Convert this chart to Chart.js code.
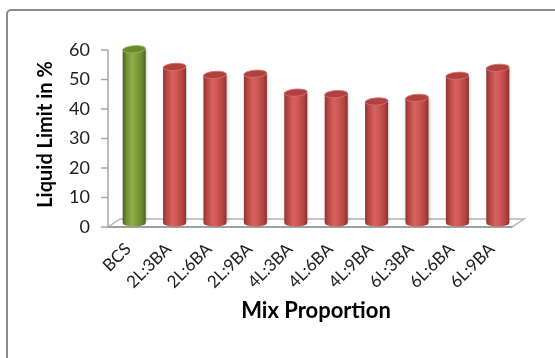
<!DOCTYPE html>
<html>
<head>
<meta charset="utf-8">
<script src="https://cdn.jsdelivr.net/npm/chart.js@4/dist/chart.umd.min.js"></script>
<style>
  html, body { margin: 0; padding: 0; background: #fff; overflow: hidden; }
  #wrap { position: relative; width: 555px; height: 358px; }
  #frame { position: absolute; left: 6px; top: 9px; width: 700px; height: 500px;
           border: 2px solid #8c8c8c; border-radius: 5px; box-sizing: border-box; pointer-events: none; }
  canvas { position: absolute; left: 0; top: 0; }
</style>
</head>
<body>
<div id="wrap">
  <canvas id="chart" width="555" height="358"></canvas>
  <div id="frame"></div>
</div>
<script>
// Mix proportions (lime : bottom ash) and their liquid limits
const categories = ['BCS', '2L:3BA', '2L:6BA', '2L:9BA', '4L:3BA', '4L:6BA', '4L:9BA', '6L:3BA', '6L:6BA', '6L:9BA'];
const liquidLimit = [58.9, 52.9, 50.2, 50.6, 44.2, 43.7, 41.2, 42.4, 49.9, 52.6];
const yMin = 0;
const yMax = 60;
const yStep = 10;

// Cylinder shading: untreated soil in green, treated mixes in red
const GREEN = {
  stops: ['#4a5d25', '#6f8c33', '#8fb04b', '#7f9f3d', '#6a8630', '#4b5f25'],
  top: '#6b8a2f', rim: '#9bbb5a'
};
const RED = {
  stops: ['#8e3432', '#b54744', '#d9625f', '#cd5754', '#b04340', '#883230'],
  top: '#b0413f', rim: '#d97471'
};
const STOP_POS = [0, 0.15, 0.4, 0.6, 0.85, 1];
const BAR_PCT = 0.57;
const DX = 6, DY = 4;           // half depth of the 3-D floor
const CAP_RY = 3.6;             // vertical radius of the cylinder caps

function paletteFor(i) { return i === 0 ? GREEN : RED; }

function bodyGradient(ctx, x0, x1, pal) {
  const g = ctx.createLinearGradient(x0, 0, x1, 0);
  pal.stops.forEach((c, k) => g.addColorStop(STOP_POS[k], c));
  return g;
}

// Floor, front value axis and its tick marks
const frame3d = {
  id: 'frame3d',
  beforeDatasetsDraw(chart) {
    const { ctx, chartArea: a, scales } = chart;
    const b = scales.y.getPixelForValue(yMin);
    ctx.save();
    ctx.fillStyle = '#ffffff';
    ctx.strokeStyle = '#b4b4b4';
    ctx.lineWidth = 1.5;
    ctx.beginPath();
    ctx.moveTo(a.left - DX, b + DY);
    ctx.lineTo(a.right - DX, b + DY);
    ctx.lineTo(a.right + DX, b - DY);
    ctx.lineTo(a.left + DX, b - DY);
    ctx.closePath();
    ctx.fill();
    ctx.stroke();
    // front edge of the floor
    ctx.strokeStyle = '#a0a0a0';
    ctx.lineWidth = 2.2;
    ctx.beginPath();
    ctx.moveTo(a.left - DX, b + DY);
    ctx.lineTo(a.right - DX, b + DY);
    ctx.stroke();
    // value axis with outward ticks
    const ax = a.left - DX;
    ctx.strokeStyle = '#a6a6a6';
    ctx.lineWidth = 1.5;
    ctx.beginPath();
    ctx.moveTo(ax, scales.y.getPixelForValue(yMax) + DY);
    ctx.lineTo(ax, b + DY);
    scales.y.ticks.forEach(t => {
      const py = scales.y.getPixelForValue(t.value) + DY;
      ctx.moveTo(ax - 7, py);
      ctx.lineTo(ax, py);
    });
    ctx.stroke();
    ctx.restore();
  }
};

// Soft shadow behind the cylinders
const barShadow = {
  id: 'barShadow',
  beforeDatasetDraw(chart) {
    const ctx = chart.ctx;
    ctx.save();
    ctx.shadowColor = 'rgba(0,0,0,0.22)';
    ctx.shadowBlur = 3;
    ctx.shadowOffsetX = 1;
  },
  afterDatasetDraw(chart) { chart.ctx.restore(); }
};

// Rounded bottoms and elliptical tops of the cylinders
const cylinderCaps = {
  id: 'cylinderCaps',
  afterDatasetsDraw(chart) {
    const ctx = chart.ctx;
    const meta = chart.getDatasetMeta(0);
    meta.data.forEach((bar, i) => {
      const { x, y, base, width } = bar.getProps(['x', 'y', 'base', 'width'], true);
      const rx = width / 2;
      const pal = paletteFor(i);
      ctx.save();
      ctx.fillStyle = bodyGradient(ctx, x - rx, x + rx, pal);
      ctx.beginPath();
      ctx.ellipse(x, base, rx, CAP_RY, 0, 0, Math.PI);
      ctx.fill();
      ctx.beginPath();
      ctx.ellipse(x, y, rx, CAP_RY, -0.07, 0, Math.PI * 2);
      ctx.fillStyle = pal.top;
      ctx.fill();
      ctx.strokeStyle = pal.rim;
      ctx.lineWidth = 0.8;
      ctx.stroke();
      ctx.restore();
    });
  }
};

new Chart(document.getElementById('chart'), {
  type: 'bar',
  data: {
    labels: categories,
    datasets: [{
      data: liquidLimit,
      categoryPercentage: 1,
      barPercentage: BAR_PCT,
      borderWidth: 0,
      backgroundColor(c) {
        const chart = c.chart;
        const pal = paletteFor(c.dataIndex);
        if (!chart.chartArea || c.type !== 'data') return pal.stops[2];
        const x = chart.scales.x.getPixelForValue(c.dataIndex);
        const half = (chart.chartArea.width / categories.length) * BAR_PCT / 2;
        return bodyGradient(chart.ctx, x - half, x + half, pal);
      }
    }]
  },
  options: {
    responsive: false,
    devicePixelRatio: 1,
    animation: false,
    layout: { padding: { left: 0, right: 37, top: 46, bottom: 0 } },
    plugins: { legend: { display: false }, tooltip: { enabled: false } },
    scales: {
      x: {
        grid: { display: false, drawTicks: false },
        border: { display: false },
        ticks: {
          minRotation: 45, maxRotation: 45, autoSkip: false,
          padding: 16, labelOffset: -6,
          color: '#1e1e1e',
          font: { family: 'Lato', size: 17 }
        },
        title: {
          display: true, text: 'Mix Proportion', color: '#000',
          font: { family: 'Lato', size: 22, weight: 'bold' },
          padding: { top: 0, bottom: 34 }
        },
        afterFit(s) { s.height = 135; }
      },
      y: {
        min: yMin, max: yMax,
        grid: { display: false, drawTicks: false },
        border: { display: false },
        ticks: {
          stepSize: yStep, padding: 24, labelOffset: DY,
          color: '#1e1e1e',
          font: { family: 'Lato', size: 18 }
        },
        title: {
          display: true, text: 'Liquid Limit in %', color: '#000',
          font: { family: 'Lato', size: 20, weight: 'bold' },
          padding: { top: 34, bottom: 0 }
        },
        afterFit(s) { s.width = 114; }
      }
    }
  },
  plugins: [frame3d, barShadow, cylinderCaps]
});
</script>
</body>
</html>
